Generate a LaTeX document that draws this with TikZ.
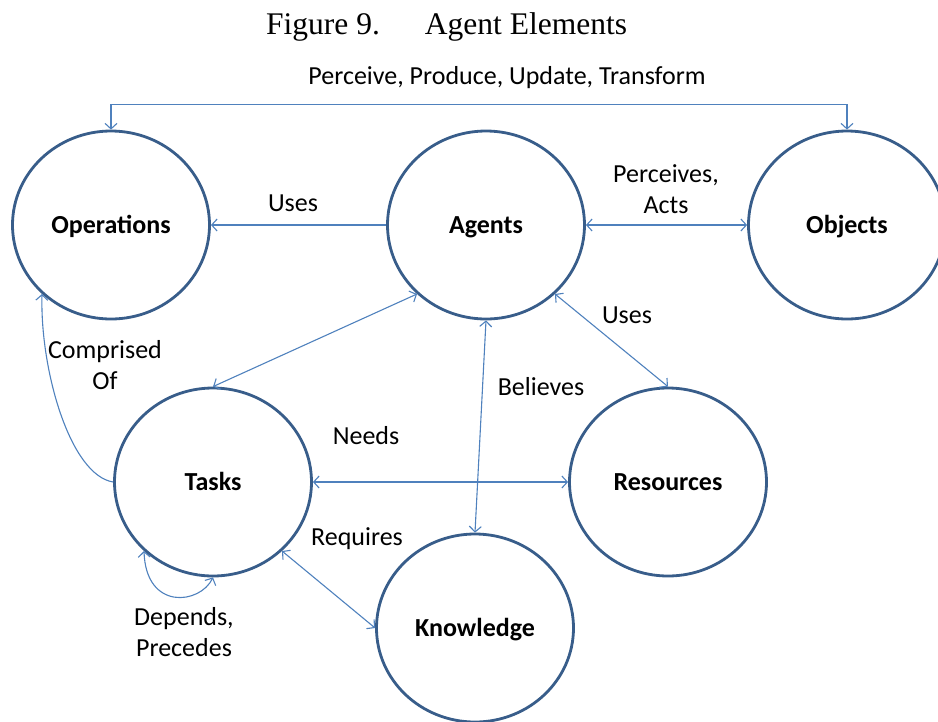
\documentclass[tikz,border=0pt]{standalone}
\usepackage{fontspec}
\setmainfont{Carlito}
\newfontfamily\titlefont{Liberation Serif}
\usetikzlibrary{shapes.geometric,arrows.meta}
\definecolor{ringblue}{HTML}{385D8A}
\definecolor{linkblue}{HTML}{4F81BD}

\begin{document}
\begin{tikzpicture}[x=1pt,y=-1pt,>={Straight Barb[length=5.5pt,width=12pt]},
	font=\fontsize{26}{30.5}\selectfont,
	element/.style={ellipse,draw=ringblue,line width=2.8pt,minimum width=197pt,minimum height=188pt,inner sep=0pt,text height=17pt,text depth=0pt,font=\fontsize{26}{30.5}\selectfont\bfseries},
	link/.style={<->,draw=linkblue,line width=1.1pt},
	tag/.style={align=center,inner sep=0pt}]
	\useasboundingbox (0,0) rectangle (938,721);
	\node [anchor=base west,inner sep=0pt,font=\titlefont\fontsize{31.5}{36}\selectfont] at (266,34) (Title) {Figure 9.\hspace{45pt}Agent Elements};

	\node [element] at (111,225) (Operations) {Operations};
	\node [element] at (486,225) (Agents) {Agents};
	\node [element] at (847,225) (Objects) {Objects};
	\node [element] at (213,482) (Tasks) {Tasks};
	\node [element] at (668,482) (Resources) {Resources};
	\node [element] at (475,628) (Knowledge) {Knowledge};

	\draw [link] (Operations.north) -- ++(0,-25) -| (Objects.north);
	\node [tag] at (507,78) (Perceive) {Perceive, Produce, Update, Transform};
	\draw [link,<-] (Operations.east) -- (Agents.west);
	\node [tag] at (293,203) (UsesOps) {Uses};
	\draw [link] (Agents.east) -- (Objects.west);
	\node [tag] at (666,189) (Perceives) {Perceives,\\Acts};
	\draw [link] (Tasks.north) -- (Agents.225);
	\draw [link] (Agents.-45) -- (Resources.north);
	\node [tag] at (627,315) (UsesRes) {Uses};
	\draw [link] (Agents.south) -- (Knowledge.north);
	\node [tag] at (541,387) (Believes) {Believes};
	\draw [link] (Tasks.east) -- (Resources.west);
	\node [tag] at (366,436) (Needs) {Needs};
	\draw [link] (Tasks.-45) -- (Knowledge.west);
	\node [tag] at (357,539) (Requires) {Requires};
	\draw [link,<-] (Operations.225) .. controls +(-2,76) and +(-43,-7) .. (Tasks.west);
	\node [tag] at (105,365) (Comprised) {Comprised\\Of};
	\draw [link] (Tasks.225) .. controls +(2,60) and +(-13,27) .. (Tasks.south);
	\node [tag] at (184,632) (Depends) {Depends,\\Precedes};
\end{tikzpicture}
\end{document}
